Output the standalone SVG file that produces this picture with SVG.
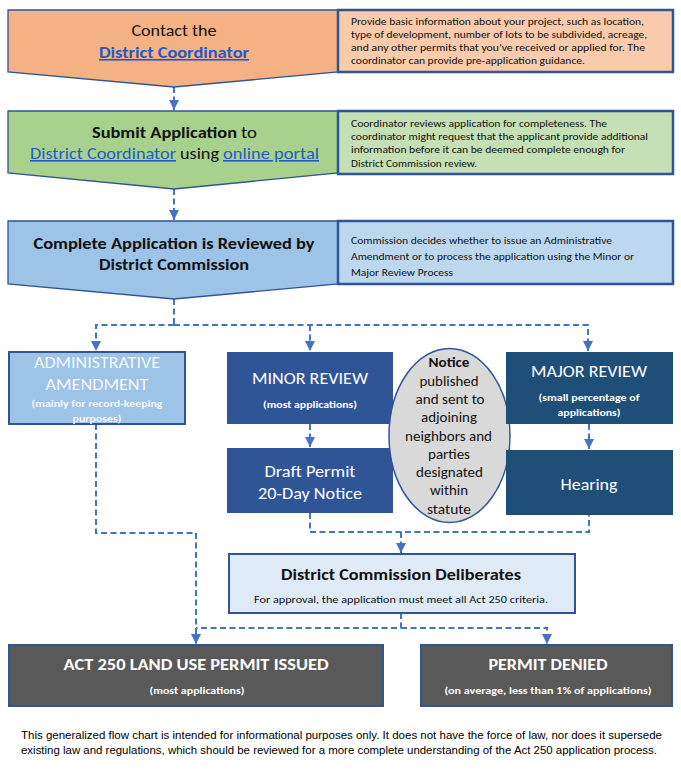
<svg xmlns="http://www.w3.org/2000/svg" width="681" height="776" viewBox="0 0 681 776">
<style>
text{font-family:Carlito,Lato,"Liberation Sans",sans-serif;}
.c{text-anchor:middle;}
.b{font-weight:bold;}
.dk{fill:#111;}
.wh{fill:#fff;}
.lnk{fill:#1F5BC8;text-decoration:underline;}
.side{stroke:#2F5597;stroke-width:2.5;}
.pent{stroke:#2F5597;stroke-width:1.3;}
.bx{stroke:#2F5597;stroke-width:2;}
.conn path{fill:none;stroke:#4472C4;stroke-width:2;stroke-dasharray:6 3.5;}
.foot{font-family:"Liberation Sans Narrow","Liberation Sans",Arial,sans-serif;font-size:11px;fill:#000;}
</style>
<defs>
<marker id="ah" markerUnits="userSpaceOnUse" markerWidth="10" markerHeight="10" refX="10" refY="5" orient="auto">
<path d="M0,0 L10,5 L0,10 z" fill="#4472C4"/>
</marker>
</defs>
<rect width="681" height="776" fill="#fff"/>

<g class="conn">
<path d="M174 87 V110" marker-end="url(#ah)"/>
<path d="M174 189 V220" marker-end="url(#ah)"/>
<path d="M174 299 V325"/>
<path d="M174 325 H96 V351" marker-end="url(#ah)"/>
<path d="M174 325 H588 V351" marker-end="url(#ah)"/>
<path d="M310 325 V351" marker-end="url(#ah)"/>
<path d="M310 424 V447" marker-end="url(#ah)"/>
<path d="M589 424 V449" marker-end="url(#ah)"/>
<path d="M310 513 V532 H589 V515"/>
<path d="M401 532 V553" marker-end="url(#ah)"/>
<path d="M96 424 V533 H196 V644" marker-end="url(#ah)"/>
<path d="M401 613 V628 H196"/>
<path d="M401 628 H547 V644" marker-end="url(#ah)"/>
</g>

<g id="contact">
<path class="pent" d="M8 10 H338 V72 L174 87 L8 72 Z" fill="#F4B183"/>
<text class="c dk" x="174" y="36" font-size="16" textLength="85" lengthAdjust="spacingAndGlyphs">Contact the</text>
<text class="c b lnk" x="174" y="58" font-size="16" textLength="150" lengthAdjust="spacingAndGlyphs">District Coordinator</text>
</g>
<g id="contact-note">
<rect class="side" x="338" y="10" width="335" height="62" fill="#F8CBAD"/>
<text class="dk" x="351" y="25" font-size="11" textLength="293" lengthAdjust="spacingAndGlyphs">Provide basic information about your project, such as location,</text>
<text class="dk" x="351" y="38" font-size="11" textLength="296" lengthAdjust="spacingAndGlyphs">type of development, number of lots to be subdivided, acreage,</text>
<text class="dk" x="351" y="51" font-size="11" textLength="294" lengthAdjust="spacingAndGlyphs">and any other permits that you’ve received or applied for.  The</text>
<text class="dk" x="351" y="64" font-size="11" textLength="234" lengthAdjust="spacingAndGlyphs">coordinator can provide pre-application guidance.</text>
</g>

<g id="submit">
<path class="pent" d="M8 111 H338 V173 L174 189 L8 173 Z" fill="#A9D18E"/>
<text class="b dk" x="92" y="138" font-size="16" textLength="145" lengthAdjust="spacingAndGlyphs">Submit Application</text>
<text class="dk" x="241" y="138" font-size="16" textLength="16" lengthAdjust="spacingAndGlyphs">to</text>
<text class="lnk" x="30" y="159" font-size="16" textLength="146" lengthAdjust="spacingAndGlyphs">District Coordinator</text>
<text class="dk" x="180" y="159" font-size="16" textLength="39" lengthAdjust="spacingAndGlyphs">using</text>
<text class="lnk" x="223" y="159" font-size="16" textLength="96" lengthAdjust="spacingAndGlyphs">online portal</text>
</g>
<g id="submit-note">
<rect class="side" x="338" y="111" width="335" height="63" fill="#C5E0B4"/>
<text class="dk" x="351" y="127" font-size="11" textLength="256" lengthAdjust="spacingAndGlyphs">Coordinator reviews application for completeness. The</text>
<text class="dk" x="351" y="140" font-size="11" textLength="297" lengthAdjust="spacingAndGlyphs">coordinator might request that the applicant provide additional</text>
<text class="dk" x="351" y="153" font-size="11" textLength="274" lengthAdjust="spacingAndGlyphs">information before it can be deemed complete enough for</text>
<text class="dk" x="351" y="167" font-size="11" textLength="126" lengthAdjust="spacingAndGlyphs">District Commission review.</text>
</g>

<g id="review">
<path class="pent" d="M8 221 H338 V284 L174 299 L8 284 Z" fill="#9DC3E6"/>
<text class="c b dk" x="174" y="249" font-size="16" textLength="281" lengthAdjust="spacingAndGlyphs">Complete Application is Reviewed by</text>
<text class="c b dk" x="174" y="270" font-size="16" textLength="150" lengthAdjust="spacingAndGlyphs">District Commission</text>
</g>
<g id="review-note">
<rect class="side" x="338" y="221" width="335" height="63" fill="#BDD7EE"/>
<text class="dk" x="351" y="244" font-size="11" textLength="261" lengthAdjust="spacingAndGlyphs">Commission decides whether to issue an Administrative</text>
<text class="dk" x="351" y="260" font-size="11" textLength="283" lengthAdjust="spacingAndGlyphs">Amendment or to process the application using the Minor or</text>
<text class="dk" x="351" y="276" font-size="11" textLength="102" lengthAdjust="spacingAndGlyphs">Major Review Process</text>
</g>

<g id="admin">
<rect class="bx" x="9" y="352" width="176" height="72" fill="#9DC3E6"/>
<text class="c" fill="#F4F7FB" x="97" y="368" font-size="15.5" textLength="126" lengthAdjust="spacingAndGlyphs">ADMINISTRATIVE</text>
<text class="c" fill="#F4F7FB" x="97" y="390" font-size="15.5" textLength="103" lengthAdjust="spacingAndGlyphs">AMENDMENT</text>
<text class="c b" fill="#F4F7FB" x="97" y="407" font-size="10.5" textLength="131" lengthAdjust="spacingAndGlyphs">(mainly for record-keeping</text>
<text class="c b" fill="#F4F7FB" x="97" y="422" font-size="10.5" textLength="49" lengthAdjust="spacingAndGlyphs">purposes)</text>
</g>

<g id="minor">
<rect x="227" y="352" width="166" height="72" fill="#2F5597"/>
<text class="c wh" x="310" y="384" font-size="15.5" textLength="116" lengthAdjust="spacingAndGlyphs">MINOR REVIEW</text>
<text class="c b wh" x="310" y="408" font-size="10.5" textLength="94" lengthAdjust="spacingAndGlyphs">(most applications)</text>
</g>

<g id="draft">
<rect x="227" y="448" width="166" height="65" fill="#2F5597"/>
<text class="c wh" x="310" y="477" font-size="16" textLength="91" lengthAdjust="spacingAndGlyphs">Draft Permit</text>
<text class="c wh" x="310" y="499" font-size="16" textLength="104" lengthAdjust="spacingAndGlyphs">20-Day Notice</text>
</g>

<g id="notice">
<ellipse cx="449.5" cy="435.5" rx="60.5" ry="87" fill="#D9D9D9" stroke="#2F5597" stroke-width="1.5"/>
<text class="c b dk" x="449" y="367" font-size="14.5" textLength="41" lengthAdjust="spacingAndGlyphs">Notice</text>
<text class="c dk" x="449" y="385.5" font-size="14.5" textLength="59" lengthAdjust="spacingAndGlyphs">published</text>
<text class="c dk" x="450" y="403.5" font-size="14.5" textLength="69" lengthAdjust="spacingAndGlyphs">and sent to</text>
<text class="c dk" x="449" y="422" font-size="14.5" textLength="56" lengthAdjust="spacingAndGlyphs">adjoining</text>
<text class="c dk" x="448.5" y="440.5" font-size="14.5" textLength="87" lengthAdjust="spacingAndGlyphs">neighbors and</text>
<text class="c dk" x="449" y="458.5" font-size="14.5" textLength="42" lengthAdjust="spacingAndGlyphs">parties</text>
<text class="c dk" x="449.5" y="477" font-size="14.5" textLength="67" lengthAdjust="spacingAndGlyphs">designated</text>
<text class="c dk" x="449" y="495" font-size="14.5" textLength="38" lengthAdjust="spacingAndGlyphs">within</text>
<text class="c dk" x="449" y="513.5" font-size="14.5" textLength="44" lengthAdjust="spacingAndGlyphs">statute</text>
</g>

<g id="major">
<rect x="506" y="352" width="167" height="72" fill="#1F4E79"/>
<text class="c wh" x="589" y="377" font-size="15.5" textLength="116" lengthAdjust="spacingAndGlyphs">MAJOR REVIEW</text>
<text class="c b wh" x="589" y="401" font-size="10.5" textLength="101" lengthAdjust="spacingAndGlyphs">(small percentage of</text>
<text class="c b wh" x="589" y="416" font-size="10.5" textLength="63" lengthAdjust="spacingAndGlyphs">applications)</text>
</g>

<g id="hearing">
<rect x="506" y="450" width="167" height="65" fill="#1F4E79"/>
<text class="c wh" x="589" y="490" font-size="16" textLength="57" lengthAdjust="spacingAndGlyphs">Hearing</text>
</g>

<g id="deliberates">
<rect class="bx" x="229" y="554" width="346" height="59" fill="#DEEBF7"/>
<text class="c b dk" x="401" y="580" font-size="15" textLength="240" lengthAdjust="spacingAndGlyphs">District Commission Deliberates</text>
<text class="c dk" x="401" y="603" font-size="10.5" textLength="294" lengthAdjust="spacingAndGlyphs">For approval, the application must meet all Act 250 criteria.</text>
</g>

<g id="issued">
<rect class="bx" x="9" y="645" width="374" height="61" fill="#595959"/>
<text class="c b wh" x="196" y="670" font-size="15" textLength="265" lengthAdjust="spacingAndGlyphs">ACT 250 LAND USE PERMIT ISSUED</text>
<text class="c b wh" x="197" y="694" font-size="10.5" textLength="95" lengthAdjust="spacingAndGlyphs">(most applications)</text>
</g>

<g id="denied">
<rect class="bx" x="421" y="645" width="251" height="61" fill="#595959"/>
<text class="c b wh" x="548" y="670" font-size="15" textLength="119" lengthAdjust="spacingAndGlyphs">PERMIT DENIED</text>
<text class="c b wh" x="548" y="694" font-size="10.5" textLength="207" lengthAdjust="spacingAndGlyphs">(on average, less than 1% of applications)</text>
</g>

<g id="footnote">
<text class="foot" x="21" y="739" textLength="641" lengthAdjust="spacingAndGlyphs">This generalized flow chart is intended for informational purposes only. It does not have the force of law, nor does it supersede</text>
<text class="foot" x="21" y="754" textLength="636" lengthAdjust="spacingAndGlyphs">existing law and regulations, which should be reviewed for a more complete understanding of the Act 250 application process.</text>
</g>
</svg>
